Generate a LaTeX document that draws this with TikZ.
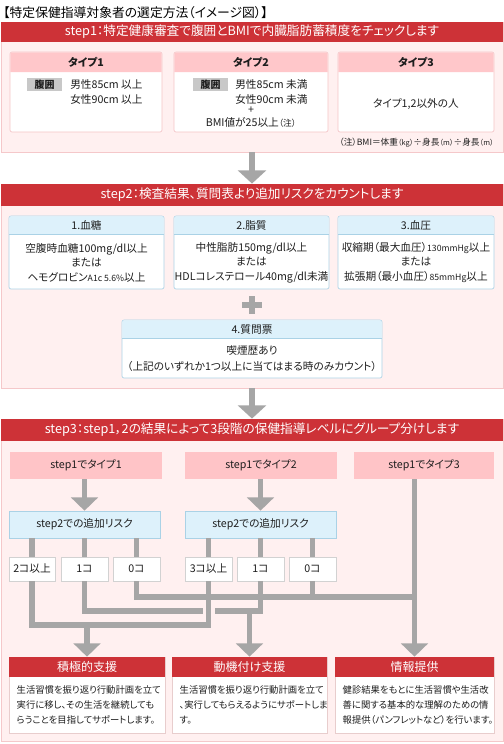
\documentclass[tikz,border=0pt]{standalone}
\usepackage{fontspec}
\setmainfont{Noto Sans CJK JP}[RawFeature=+palt]
\usetikzlibrary{fit,arrows.meta,calc}
\newcommand\myfs[2]{\fontsize{#1}{#2}\selectfont}
\definecolor{hdrred}{RGB}{205,50,55}
\definecolor{panelfill}{RGB}{255,240,240}
\definecolor{panelborder}{RGB}{245,200,202}
\definecolor{typepink}{RGB}{255,199,202}
\definecolor{spink}{RGB}{255,196,199}
\definecolor{cardborder}{RGB}{244,196,198}
\definecolor{lblue}{RGB}{221,241,251}
\definecolor{blueborder}{RGB}{170,210,230}
\definecolor{flowgray}{RGB}{166,166,166}
\definecolor{labelgray}{RGB}{200,200,200}
\definecolor{txt}{RGB}{30,30,30}
\definecolor{cntborder}{RGB}{210,210,210}
\definecolor{resborder}{RGB}{232,205,205}
\begin{document}
\begin{tikzpicture}[x=0.75pt,y=-0.75pt,
  bx/.style={inner sep=0pt},
  panel/.style={fill=panelfill,draw=panelborder,line width=0.6pt},
  redbar/.style={fill=hdrred},
  hdrtext/.style={text=white,font=\myfs{9.5}{11}},
  reshdr/.style={text=white,font=\myfs{9}{11}},
  card/.style={fill=white,draw=cardborder,line width=0.5pt,rounded corners=1.5pt},
  bcard/.style={fill=white,draw=blueborder,line width=0.5pt,rounded corners=1.5pt},
  cardtitle/.style={text=txt,font=\myfs{8}{10}\bfseries},
  body/.style={text=txt,font=\myfs{8}{10.9},align=center},
  resbody/.style={text=txt,font=\myfs{7}{11.2},align=left,anchor=north west},
  lbl/.style={fill=labelgray,text=txt,font=\myfs{7.5}{9}\bfseries},
  sbox/.style={fill=spink},
  kbox/.style={fill=lblue,draw=blueborder,line width=0.5pt},
  cbox/.style={fill=white,draw=cntborder,line width=0.5pt},
  rbox/.style={fill=white,draw=resborder,line width=0.5pt},
  flow/.style={draw=flowgray,line width=4pt},
  flowarr/.style={flow,-{Triangle[width=20pt,length=10pt]}},
  bigarr/.style={draw=flowgray,line width=5pt,-{Triangle[width=21pt,length=10pt]}}
]
\useasboundingbox (0,0) rectangle (504,744);
\fill[white] (0,0) rectangle (504,744);

% title
\node[anchor=base west,text=black,font=\myfs{9.6}{11},inner sep=0pt] (title) at (3,17) {【特定保健指導対象者の選定方法（イメージ図）】};

% ================= STEP 1 =================
\node[bx,fit={(1,22)(503,152)},panel] (p1) {};
\node[bx,fit={(1,22)(503,42)},redbar] (h1) {};
\node[hdrtext] at (h1.center) {step1：特定健康審査で腹囲とBMIで内臓脂肪蓄積度をチェックします};

\node[bx,fit={(10,52)(162,132)},card] (t1) {};
\fill[typepink] (10.3,72) [rounded corners=1.5pt] -- (10.3,52.3) -- (161.7,52.3) [sharp corners] -- (161.7,72) -- cycle;
\node[cardtitle] at (86,62) {タイプ1};
\node[bx,fit={(27,78)(62,91)},lbl] (l1) {};
\node[lbl,fill=none] at (l1.center) {腹囲};
\node[body,anchor=west,align=left,inner sep=0pt] at (70,92) {男性85cm 以上\\女性90cm 以上};

\node[bx,fit={(174,52)(328,132)},card] (t2) {};
\fill[typepink] (174.3,72) [rounded corners=1.5pt] -- (174.3,52.3) -- (327.7,52.3) [sharp corners] -- (327.7,72) -- cycle;
\node[cardtitle] at (251,62) {タイプ2};
\node[bx,fit={(193,78)(228,91)},lbl] (l2) {};
\node[lbl,fill=none] at (l2.center) {腹囲};
\node[body,anchor=west,align=left,inner sep=0pt] at (235,92) {男性85cm 未満\\女性90cm 未満};
\node[body,inner sep=0pt] at (251,110) {+};
\node[body,inner sep=0pt] at (251,122) {BMI値が25以上{\myfs{6.5}{8}（注）}};

\node[bx,fit={(338,52)(494,132)},card] (t3) {};
\fill[typepink] (338.3,72) [rounded corners=1.5pt] -- (338.3,52.3) -- (493.7,52.3) [sharp corners] -- (493.7,72) -- cycle;
\node[cardtitle] at (416,62) {タイプ3};
\node[body] at (416,104) {タイプ1,2以外の人};

\node[anchor=east,text=txt,font=\myfs{6.5}{8},inner sep=0pt] (note) at (494,143) {（注）BMI＝体重{\myfs{5.5}{7}（kg）}÷身長{\myfs{5.5}{7}（m）}÷身長{\myfs{5.5}{7}（m）}};

% ================= STEP 2 =================
\node[bx,fit={(1,184)(503,388)},panel] (p2) {};
\node[bx,fit={(1,184)(503,206)},redbar] (h2) {};
\node[hdrtext] at (h2.center) {step2：検査結果、質問表より追加リスクをカウントします};

\draw[bigarr] (p1.south) -- (p2.north);

\node[bx,fit={(9,216)(164,289)},bcard] (b1) {};
\fill[lblue] (9.3,234) [rounded corners=1.5pt] -- (9.3,216.3) -- (163.7,216.3) [sharp corners] -- (163.7,234) -- cycle;
\draw[blueborder,line width=0.5pt] (9.3,234) -- (163.7,234);
\node[cardtitle,font=\myfs{8}{10}] at (86.5,225) {1.血糖};
\node[body] at (86.5,262.5) {空腹時血糖100mg/dl以上\\または\\ヘモグロビン{\myfs{6.5}{8}A1c 5.6\%}以上};

\node[bx,fit={(174,216)(329,289)},bcard] (b2) {};
\fill[lblue] (174.3,234) [rounded corners=1.5pt] -- (174.3,216.3) -- (328.7,216.3) [sharp corners] -- (328.7,234) -- cycle;
\draw[blueborder,line width=0.5pt] (174.3,234) -- (328.7,234);
\node[cardtitle,font=\myfs{8}{10}] at (251.5,225) {2.脂質};
\node[body] at (251.5,262.5) {中性脂肪150mg/dl以上\\または\\HDLコレステロール40mg/dl未満};

\node[bx,fit={(338,216)(494,289)},bcard] (b3) {};
\fill[lblue] (338.3,234) [rounded corners=1.5pt] -- (338.3,216.3) -- (493.7,216.3) [sharp corners] -- (493.7,234) -- cycle;
\draw[blueborder,line width=0.5pt] (338.3,234) -- (493.7,234);
\node[cardtitle,font=\myfs{8}{10}] at (416,225) {3.血圧};
\node[body] at (416,262.5) {収縮期（最大血圧）{\myfs{6.5}{8}130mmHg}以上\\または\\拡張期（最小血圧）{\myfs{6.5}{8}85mmHg}以上};

% plus sign
\draw[draw=flowgray,line width=4pt] (242,305) -- (262,305);
\draw[draw=flowgray,line width=4pt] (252,296) -- (252,314);

\node[bx,fit={(122,320)(382,378)},bcard] (b4) {};
\fill[lblue] (122.3,338) [rounded corners=1.5pt] -- (122.3,320.3) -- (381.7,320.3) [sharp corners] -- (381.7,338) -- cycle;
\draw[blueborder,line width=0.5pt] (122.3,338) -- (381.7,338);
\node[cardtitle,font=\myfs{8}{10}] at (252,329) {4.質問票};
\node[body,font=\myfs{8}{12}] at (252,359) {喫煙歴あり\\（上記のいずれか1つ以上に当てはまる時のみカウント）};

% ================= STEP 3 =================
\node[bx,fit={(1,419)(503,741)},panel] (p3) {};
\node[bx,fit={(1,419)(503,441)},redbar] (h3) {};
\node[hdrtext] at (h3.center) {step3：step1，2の結果によって3段階の保健指導レベルにグループ分けします};

\draw[bigarr] (p2.south) -- (p3.north);

\node[bx,fit={(10,452)(162,479)},sbox] (s1) {};
\node[body] at (s1.center) {step1でタイプ1};
\node[bx,fit={(185,452)(337,479)},sbox] (s2) {};
\node[body] at (s2.center) {step1でタイプ2};
\node[bx,fit={(354,452)(494,479)},sbox] (s3) {};
\node[body] at (s3.center) {step1でタイプ3};

\node[bx,fit={(9,511)(160,538)},kbox] (k1) {};
\node[body] at (k1.center) {step2での追加リスク};
\node[bx,fit={(185,511)(336,538)},kbox] (k2) {};
\node[body] at (k2.center) {step2での追加リスク};

\node[bx,fit={(9,557)(55,581)},cbox] (c11) {};
\node[body] at (c11.center) {2コ以上};
\node[bx,fit={(61,557)(108,581)},cbox] (c12) {};
\node[body] at (c12.center) {1コ};
\node[bx,fit={(113,557)(160,581)},cbox] (c13) {};
\node[body] at (c13.center) {0コ};
\node[bx,fit={(185,557)(232,581)},cbox] (c21) {};
\node[body] at (c21.center) {3コ以上};
\node[bx,fit={(237,557)(284,581)},cbox] (c22) {};
\node[body] at (c22.center) {1コ};
\node[bx,fit={(289,557)(336,581)},cbox] (c23) {};
\node[body] at (c23.center) {0コ};

% result boxes
\node[bx,fit={(9,657)(165,733)},rbox] (r1) {};
\node[bx,fit={(9,657)(165,677)},redbar] (rh1) {};
\node[reshdr] at (rh1.center) {積極的支援};
\node[resbody] at (12,681) {生活習慣を振り返り行動計画を立て\\実行に移し、その生活を継続しても\\らうことを目指してサポートします。};

\node[bx,fit={(172,657)(327,733)},rbox] (r2) {};
\node[bx,fit={(172,657)(327,677)},redbar] (rh2) {};
\node[reshdr] at (rh2.center) {動機付け支援};
\node[resbody] at (175,681) {生活習慣を振り返り行動計画を立て\\、実行してもらえるようにサポートしま\\す。};

\node[bx,fit={(335,657)(494,733)},rbox] (r3) {};
\node[bx,fit={(335,657)(494,677)},redbar] (rh3) {};
\node[reshdr] at (rh3.center) {情報提供};
\node[resbody] at (338,681) {健診結果をもとに生活習慣や生活改\\善に関する基本的な理解のための情\\報提供（パンフレットなど）を行います。};

% connectors
\coordinate (y0) at (0,597);
\coordinate (y1) at (0,611);
\coordinate (y2) at (0,625);

\draw[flowarr] (k1.north |- s1.south) -- (k1.north);
\draw[flowarr] (k2.north |- s2.south) -- (k2.north);

\draw[flow] (c11.north |- k1.south) -- (c11.north);
\draw[flow] (c12.north |- k1.south) -- (c12.north);
\draw[flow] (c13.north |- k1.south) -- (c13.north);
\draw[flow] (c21.north |- k2.south) -- (c21.north);
\draw[flow] (c22.north |- k2.south) -- (c22.north);
\draw[flow] (c23.north |- k2.south) -- (c23.north);

% 0 risk -> information
\draw[flow] (c13.south) |- (r3.north |- y0);
\draw[flow] (c23.south) -- (c23.south |- y0);
\draw[flowarr] (r3.north |- s3.south) -- (r3.north);

% 1 risk -> motivational
\draw[flow] (c12.south) |- (c22.south |- y1) -- (c22.south);
\draw[flowarr] (r2.north |- y1) -- (r2.north);

% 2+/3+ -> active
\draw[panelfill,line width=9pt] ($(c21.south |- y1)+(0,-5.5)$) -- ($(c21.south |- y1)+(0,5.5)$);
\draw[flow] (c11.south) |- (c21.south |- y2) -- (c21.south);
\draw[flowarr] (r1.north |- y2) -- (r1.north);

\end{tikzpicture}
\end{document}
